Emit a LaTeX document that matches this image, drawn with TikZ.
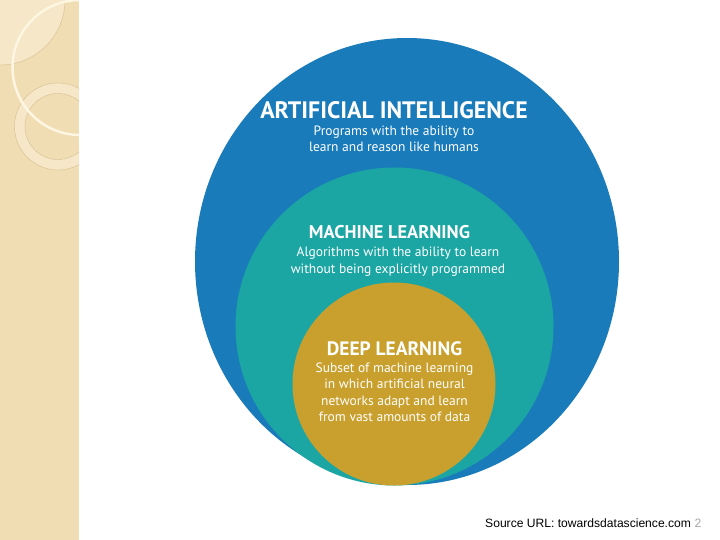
\documentclass[tikz,border=0pt]{standalone}
\usepackage{fontspec}
\setmainfont{PT Sans}
\newfontfamily\srcfont{Liberation Sans}
\usetikzlibrary{positioning}
\definecolor{aiblue}{RGB}{25,123,186}
\definecolor{mlteal}{RGB}{27,166,164}
\definecolor{dlgold}{RGB}{201,160,45}
\definecolor{paper}{RGB}{241,221,179}
\definecolor{paperlt}{RGB}{245,231,199}
\definecolor{paperln}{RGB}{214,190,145}
\definecolor{cream}{RGB}{253,246,226}

\begin{document}
\begin{tikzpicture}[x=1pt, y=-1pt,
  head/.style={text=white, font=\fontsize{#1}{#1}\selectfont\bfseries, anchor=base},
  body/.style={text=white, font=\fontsize{13.5}{16.4}\selectfont, align=center, anchor=base},
  src/.style={font=\srcfont\fontsize{12.1}{13}\selectfont, anchor=base west, inner sep=0pt}]
\useasboundingbox (0,0) rectangle (720,540);
\fill[white] (0,0) rectangle (720,540);
\fill[paper] (0,0) rectangle (79,540);
\begin{scope}
\clip (0,0) rectangle (79,540);
\fill[paperlt] (0,0) circle (65);
\draw[paperln, thin] (0,0) circle (65);
\fill[paperlt, even odd rule] (58,126.5) circle (43.5) (58,126.5) circle (33);
\draw[paperln, thin] (58,126.5) circle (43.5) (58,126.5) circle (33);
\draw[cream, line width=2.5pt] (80,67.5) circle (67.5);
\end{scope}
\fill[aiblue] (407,261.5) ellipse [x radius=212, y radius=223.5];
\fill[mlteal] (394.5,326.5) circle (159);
\fill[dlgold] (394,384) circle (101.5);
\node[head=23.8] (ai) at (394,118.3) {ARTIFICIAL INTELLIGENCE};
\node[body] (aitxt) at (394,151.7) {Programs with the ability to\\learn and reason like humans};
\node[head=18.4] (ml) at (389.5,238) {MACHINE LEARNING};
\node[body] (mltxt) at (398,273) {Algorithms with the ability to learn\\without being explicitly programmed};
\node[head=19.4] (dl) at (394.5,355) {DEEP LEARNING};
\node[body] (dltxt) at (394.5,421.7) {Subset of machine learning\\in which artificial neural\\networks adapt and learn\\from vast amounts of data};
\node[src] (url) at (485,527.3) {Source URL: towardsdatascience.com};
\node[src, text=gray!70] (pg) at (694.5,527.3) {2};
\end{tikzpicture}
\end{document}
